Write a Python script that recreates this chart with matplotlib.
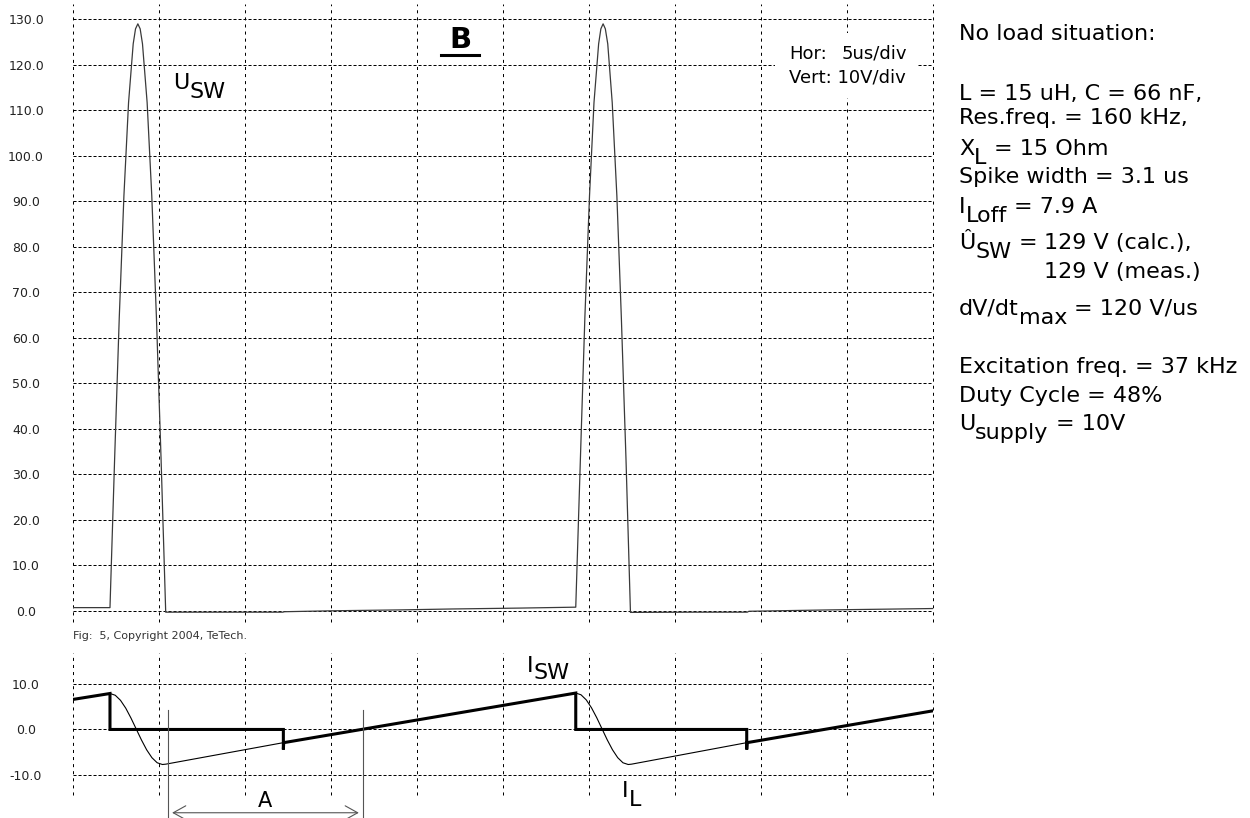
import matplotlib
matplotlib.use('Agg')
import matplotlib.pyplot as plt
from matplotlib.patches import Rectangle
from matplotlib.lines import Line2D

plt.rcParams['font.family'] = ['DejaVu Sans']
plt.rcParams['lines.scale_dashes'] = False

W, H = 1250, 818

# scope grid: 5 us/div horizontal, 10 V/div and 10 A/div vertical
time_ticks = [0, 5, 10, 15, 20, 25, 30, 35, 40, 45, 50]
volt_ticks = [0, 10, 20, 30, 40, 50, 60, 70, 80, 90, 100, 110, 120, 130]
amp_ticks = [-10, 0, 10]

# U_SW switch voltage [V] over time [us]
usw_t = [0.0, 2.15, 2.42, 2.69, 2.96, 3.23, 3.50, 3.635, 3.77, 3.905, 4.04, 4.31, 4.58, 4.85, 5.12, 5.39,
         8.0, 12.2, 12.3, 15.0, 19.0, 22.0, 26.0,
         29.23, 29.50, 29.76, 30.03, 30.29, 30.56, 30.69, 30.82, 30.95, 31.09, 31.35, 31.62, 31.88, 32.15, 32.41,
         36.0, 39.2, 39.3, 44.0, 50.0]
usw_v = [0.7, 0.7, 33.4, 64.5, 91.2, 111.7, 124.6, 127.9, 129.0, 127.9, 124.6, 111.7, 91.2, 64.5, 33.4, -0.3,
         -0.3, -0.3, -0.2, 0.0, 0.2, 0.4, 0.6,
         0.8, 33.4, 64.5, 91.2, 111.7, 124.6, 127.9, 129.0, 127.9, 124.6, 111.7, 91.2, 64.5, 33.4, -0.35,
         -0.3, -0.3, -0.1, 0.2, 0.5]

# I_SW switch current [A] (thick trace)
isw_t = [0.0, 2.15, 2.15, 12.23, 12.23, 12.25, 29.23, 29.23, 39.17, 39.17, 39.19, 50.0]
isw_v = [6.6, 7.9, 0.0, 0.0, -4.4, -2.9, 8.0, 0.0, 0.0, -4.4, -2.9, 4.1]

# I_L coil current [A] (thin trace)
il_t = [0.0, 2.15, 2.455, 2.76, 3.065, 3.37, 3.675, 3.98, 4.285, 4.59, 4.895, 5.20, 5.40,
        12.23, 29.23, 29.535, 29.84, 30.145, 30.45, 30.755, 31.06, 31.365, 31.67, 31.975, 32.28, 32.48,
        39.17, 50.0]
il_v = [6.6, 7.9, 7.52, 6.41, 4.69, 2.51, 0.1, -2.31, -4.49, -6.21, -7.32, -7.7, -7.62,
        -2.9, 8.0, 7.62, 6.5, 4.76, 2.58, 0.15, -2.28, -4.46, -6.2, -7.32, -7.7, -7.62,
        -2.9, 4.1]

# cursors of interval "A" [us]
cursor_t = [5.52, 16.86]

# parameter text on the right side (baseline in px, parts with subscript flag)
info_lines = [
    (40, [('No load situation:', 0)]),
    (100, [('L = 15 uH, C = 66 nF,', 0)]),
    (124, [('Res.freq. = 160 kHz,', 0)]),
    (155, [('X', 0), ('L', 1), (' = 15 Ohm', 0)]),
    (183, [('Spike width = 3.1 us', 0)]),
    (213, [('I', 0), ('Loff', 1), (' = 7.9 A', 0)]),
    (249, [('Û', 0), ('SW', 1), (' =', 0), (' 129 V (calc.),', 0)]),
    (315, [('dV/dt', 0), ('max', 1), (' = 120 V/us', 0)]),
    (373, [('Excitation freq. = 37 kHz', 0)]),
    (402, [('Duty Cycle = 48%', 0)]),
    (430, [('U', 0), ('supply', 1), (' = 10V', 0)]),
]

fig = plt.figure(figsize=(W / 100, H / 100), dpi=100)
ax1 = fig.add_axes([73 / W, 1 - 622 / H, 860 / W, 618 / H])
ax2 = fig.add_axes([73 / W, 1 - 795 / H, 860 / W, 142 / H])
renderer = fig.canvas.get_renderer()


def scope_axes(ax, yticks, ylim):
    ax.set_xlim(0, 50)
    ax.set_ylim(*ylim)
    ax.set_xticks(time_ticks)
    ax.set_yticks(yticks)
    ax.set_yticklabels(['%.1f' % v for v in yticks], ha='center')
    ax.tick_params(length=0, labelbottom=False, labelsize=9, labelcolor='#222222')
    ax.tick_params(axis='y', pad=33.8)
    for s in ax.spines.values():
        s.set_visible(False)
    ax.grid(axis='x', color='black', lw=0.72, linestyle=(0, (2.2, 2.9)))
    ax.grid(axis='y', color='black', lw=0.72, linestyle=(0, (2.2, 1.4)))
    for gl in ax.get_xgridlines() + ax.get_ygridlines():
        gl.set_clip_on(False)
    ax.set_axisbelow(True)


def text_width(s, size):
    t = fig.text(0, 0, s, fontsize=size)
    w = t.get_window_extent(renderer).width
    t.remove()
    return w


def sub_text(x, y, parts, size=16, drop=9):
    # x, y in pixels from top left, y is the baseline; subscripts are full size, shifted down
    space = text_width('x x', size) - text_width('xx', size)
    cur = x
    starts = []
    for txt, is_sub in parts:
        cur += (len(txt) - len(txt.lstrip(' '))) * space
        yy = y + (drop if is_sub else 0)
        t = fig.text(cur / W, 1 - yy / H, txt.lstrip(' '), fontsize=size, va='baseline', ha='left')
        starts.append(cur)
        cur += t.get_window_extent(renderer).width
    return starts


scope_axes(ax1, volt_ticks, (-2.46, 133.36))
scope_axes(ax2, amp_ticks, (-14.4, 16.8))

ax1.plot(usw_t, usw_v, color='#3a3a3a', lw=0.9)
ax2.plot(il_t, il_v, color='black', lw=0.8)
ax2.plot(isw_t, isw_v, color='black', lw=2.2, solid_joinstyle='miter')

# interval A
for ct in cursor_t:
    ax2.plot([ct, ct], [4.3, -19.5], color='#555555', lw=0.8, clip_on=False)
ax2.annotate('', xy=(cursor_t[0], -18.3), xytext=(cursor_t[1], -18.3), annotation_clip=False,
             arrowprops=dict(arrowstyle='<->,head_length=0.45,head_width=0.25', mutation_scale=20,
                             color='#555555', lw=0.8, shrinkA=3, shrinkB=3))
fig.text(265 / W, 1 - 807 / H, 'A', fontsize=15, ha='center', va='baseline')

# trace labels
sub_text(173, 89, [('U', 0), ('SW', 1)])
sub_text(527, 672, [('I', 0), ('SW', 1)], drop=7)
sub_text(622, 797, [('I', 0), ('L', 1)])

fig.text(73 / W, 1 - 636 / H, 'Fig:  5, Copyright 2004, TeTech.', fontsize=8, va='center', color='#333333')

# "B" marker with underline
fig.text(460 / W, 1 - 48 / H, 'B', fontsize=21, fontweight='bold', ha='center', va='baseline')
fig.add_artist(Line2D([441 / W, 479 / W], [1 - 55 / H, 1 - 55 / H], lw=2.2, color='black'))

# scale box
fig.add_artist(Rectangle((775 / W, 1 - 98 / H), 143 / W, 65 / H, transform=fig.transFigure,
                         facecolor='white', edgecolor='none'))
fig.text(789 / W, 1 - 59 / H, 'Hor:', fontsize=13, va='baseline')
fig.text(907 / W, 1 - 59 / H, '5us/div', fontsize=13, va='baseline', ha='right')
fig.text(789 / W, 1 - 82 / H, 'Vert: 10V/div', fontsize=13, va='baseline')

# parameter block
calc_x = None
for base, parts in info_lines:
    starts = sub_text(959, base, parts)
    if parts[-1][0].startswith(' 129'):
        calc_x = starts[-1]
sub_text(calc_x, 278, [('129 V (meas.)', 0)])

fig.savefig('out.png', dpi=100, facecolor='white')
